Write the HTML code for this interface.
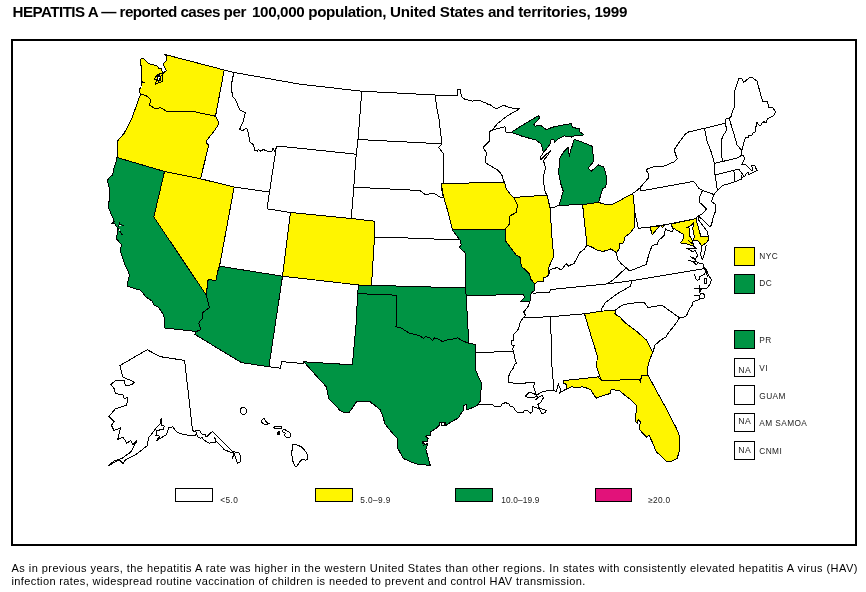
<!DOCTYPE html>
<html><head><meta charset="utf-8">
<style>
html,body{margin:0;padding:0;background:#fff;}
body{width:866px;height:592px;position:relative;overflow:hidden;font-family:"Liberation Sans",sans-serif;color:#000;}
#title{position:absolute;left:12.5px;top:2px;font-weight:bold;font-size:15.2px;letter-spacing:-0.36px;white-space:nowrap;line-height:20px;}
#frame{position:absolute;left:11px;top:39px;width:842px;height:503px;border:2px solid #000;}
#cap{position:absolute;left:11.5px;top:562px;font-size:11px;letter-spacing:0.46px;line-height:13px;white-space:nowrap;}
#map{position:absolute;left:0;top:0;}
.bx{position:absolute;border:1px solid #000;box-sizing:border-box;background:#fff;}
.t{position:absolute;font-size:8.3px;letter-spacing:0.4px;margin-left:-0.7px;line-height:10px;white-space:nowrap;color:#222;}
.na{font-size:8.7px;letter-spacing:0.3px;}
</style></head><body>
<div id="title"><span style="letter-spacing:-0.55px">HEPATITIS A — reported cases </span>per <span style="margin-left:2px">100,000</span> population, <span style="letter-spacing:-0.24px">United States and territories, 1999</span></div>
<div id="frame"></div>
<svg id="map" width="866" height="592" viewBox="0 0 866 592" shape-rendering="crispEdges">
<g stroke="#000" stroke-width="1" stroke-linejoin="miter">
<polygon fill="#FFF500" points="141.1,58.2 143.5,58.2 148.4,63.4 153.0,64.8 157.0,65.8 159.1,68.6 161.5,68.6 162.5,73.8 166.4,70.6 164.3,67.2 163.3,63.7 166.0,60.9 166.0,55.4 164.6,54.4 224.2,70.0 215.5,116.2 204.0,113.8 193.7,111.6 179.2,111.9 166.3,111.2 160.2,107.4 158.7,108.1 154.1,108.1 149.8,105.1 150.3,99.0 146.5,96.0 141.2,94.0 139.7,92.9 139.7,89.1 141.9,85.3 141.4,82.5 144.5,82.3 141.4,81.5 141.4,66.0 140.4,65.8 140.4,61.3 141.1,58.2"/>
<polygon fill="#FFF500" points="141.2,94.0 139.0,98.0 137.5,102.5 134.5,111.0 131.2,120.0 127.5,127.0 123.8,133.8 120.5,137.5 117.5,141.2 117.3,150.0 117.0,157.5 164.5,171.5 200.5,178.8 208.8,145.0 207.0,143.5 206.2,141.2 210.0,136.2 215.0,130.0 218.8,123.8 217.5,119.5 215.5,116.2 204.0,113.8 193.7,111.6 179.2,111.9 166.3,111.2 160.2,107.4 158.7,108.1 154.1,108.1 149.8,105.1 150.3,99.0 146.5,96.0 141.2,94.0"/>
<polygon fill="#009444" points="165.0,328.0 164.5,322.0 163.8,315.0 161.0,311.0 158.8,307.5 153.8,305.0 152.5,301.2 148.0,298.5 145.0,296.2 143.0,293.0 140.0,290.0 134.0,288.5 127.5,286.2 128.0,281.0 129.5,275.0 127.5,270.0 125.0,265.0 122.5,257.5 120.0,250.0 121.6,244.9 116.2,238.4 116.2,235.4 117.6,234.7 117.2,227.3 114.5,223.6 112.2,223.2 114.2,221.2 111.3,214.3 108.4,207.4 108.4,205.0 109.8,197.0 110.0,190.0 108.5,185.0 107.5,180.0 109.5,177.5 112.5,175.0 114.0,168.0 116.0,162.0 117.0,157.5 164.5,171.5 153.8,217.0 206.2,295.0 207.8,301.0 209.5,307.5 206.0,310.0 203.0,312.5 202.5,318.8 200.0,321.0 198.8,323.8 200.0,327.0 200.0,330.0 196.2,331.5 165.0,328.0"/>
<polygon fill="#FFF500" points="164.5,171.5 200.5,178.8 234.2,187.0 219.5,266.2 217.5,272.0 216.2,280.0 214.0,281.2 210.0,278.8 208.0,280.5 207.2,287.0 206.2,295.0 153.8,217.0 164.5,171.5"/>
<polygon fill="#009444" points="219.5,266.2 217.5,272.0 216.2,280.0 214.0,281.2 210.0,278.8 208.0,280.5 207.2,287.0 206.2,295.0 207.8,301.0 209.5,307.5 206.0,310.0 203.0,312.5 202.5,318.8 200.0,321.0 198.8,323.8 200.0,327.0 200.0,330.0 196.2,331.5 195.0,334.5 241.2,362.5 268.9,366.8 282.5,276.2 219.5,266.2"/>
<polygon fill="#FFF500" points="290.5,212.5 351.2,218.5 375.0,221.2 374.5,237.0 371.5,285.3 358.8,285.0 282.5,276.2 290.5,212.5"/>
<polygon fill="#009444" points="303.9,361.8 352.4,364.8 356.5,319.9 357.5,293.6 396.5,295.2 396.0,326.8 398.5,327.5 401.0,327.8 403.6,329.6 406.0,331.0 409.2,333.2 413.0,334.0 417.5,335.1 421.0,336.5 423.5,338.5 425.8,336.5 430.0,338.0 432.5,340.5 434.1,337.9 438.0,339.0 442.4,341.5 448.0,339.8 453.0,339.0 457.7,337.9 463.0,341.0 468.8,343.4 475.1,344.3 475.1,352.3 475.1,368.4 478.0,376.0 481.6,383.5 481.5,388.0 480.4,392.7 480.2,395.0 480.8,400.0 478.3,404.5 475.8,406.4 470.7,408.3 466.9,409.6 466.3,404.5 463.1,405.8 463.7,410.2 460.6,414.0 458.7,417.8 451.7,421.6 446.0,425.4 445.4,422.2 439.7,422.2 439.1,425.4 435.9,428.5 430.8,431.7 430.2,435.5 425.8,436.1 428.3,438.7 427.0,441.5 423.0,441.5 422.6,443.7 427.7,444.4 425.8,449.4 427.7,455.8 430.2,465.3 423.5,464.8 417.4,464.3 410.0,461.5 403.5,458.5 400.5,453.5 397.7,448.1 397.5,443.0 397.7,438.9 391.0,431.5 385.0,423.9 383.0,417.0 380.4,410.0 375.0,405.5 370.2,401.9 363.0,401.2 356.3,401.9 352.5,408.0 349.0,412.5 343.0,412.0 340.0,410.5 335.0,405.0 328.8,398.9 327.5,392.0 326.0,386.4 320.0,380.0 312.0,371.0 303.9,361.8"/>
<polygon fill="#009444" points="358.8,285.0 371.5,285.3 465.5,288.0 466.2,295.9 468.8,343.4 463.0,341.0 457.7,337.9 453.0,339.0 448.0,339.8 442.4,341.5 438.0,339.0 434.1,337.9 432.5,340.5 430.0,338.0 425.8,336.5 423.5,338.5 421.0,336.5 417.5,335.1 413.0,334.0 409.2,333.2 406.0,331.0 403.6,329.6 401.0,327.8 398.5,327.5 396.0,326.8 396.5,295.2 357.5,293.6 358.8,285.0"/>
<polygon fill="#009444" points="452.5,230.0 456.5,235.5 460.0,240.0 461.2,244.5 459.3,247.5 465.0,252.5 465.5,288.0 466.2,295.9 523.6,294.2 524.3,297.4 520.4,301.9 529.8,301.9 530.5,297.7 531.2,292.9 534.6,290.8 535.0,284.0 530.5,279.0 529.8,274.2 525.6,270.0 521.2,266.2 520.8,262.0 520.5,257.5 516.2,255.0 512.5,250.0 508.5,245.0 505.0,240.0 505.0,229.5 452.5,230.0"/>
<polygon fill="#FFF500" points="441.3,183.8 504.5,182.0 506.2,188.8 510.0,194.0 513.8,197.5 517.5,205.0 516.2,212.5 512.5,214.5 509.5,216.2 509.5,223.8 507.0,227.0 505.0,229.5 452.5,230.0 450.5,222.5 448.8,215.0 447.5,210.0 445.5,203.5 443.8,197.5 442.5,191.0 441.3,183.8"/>
<polygon fill="#FFF500" points="513.8,197.5 547.0,195.0 550.0,207.5 552.5,245.0 553.8,256.2 551.0,262.0 548.8,267.5 547.8,276.5 543.7,277.6 543.0,281.8 540.5,281.8 537.8,281.1 535.0,284.0 530.5,279.0 529.8,274.2 525.6,270.0 521.2,266.2 520.8,262.0 520.5,257.5 516.2,255.0 512.5,250.0 508.5,245.0 505.0,240.0 505.0,229.5 507.0,227.0 509.5,223.8 509.5,216.2 512.5,214.5 516.2,212.5 517.5,205.0 513.8,197.5"/>
<polygon fill="#009444" points="511.2,132.4 518.0,128.0 525.0,123.7 532.0,119.5 538.2,115.8 539.9,117.2 537.0,121.0 534.0,124.5 535.0,126.2 540.3,125.1 543.5,127.5 546.5,129.7 550.5,128.0 554.8,126.6 563.0,125.0 571.5,123.5 572.5,127.6 579.8,128.6 579.8,131.8 583.9,134.9 579.0,135.5 574.6,135.9 571.5,137.0 568.0,136.3 564.2,135.9 561.0,137.5 557.9,139.0 554.8,142.2 553.8,139.5 550.7,140.1 550.7,143.2 547.5,147.5 543.4,152.6 542.3,148.5 541.3,144.2 536.1,140.1 523.0,136.5 511.2,132.4"/>
<polygon fill="#009444" points="558.8,205.3 560.5,201.0 563.2,191.0 560.5,183.0 558.6,172.3 560.0,157.7 564.0,151.5 568.3,147.4 569.3,156.7 570.5,150.0 572.5,145.3 573.5,140.1 574.6,139.5 583.0,142.5 592.2,146.3 593.0,154.0 593.3,161.9 588.1,168.1 591.2,171.3 595.0,168.0 598.5,165.0 603.7,167.1 605.5,173.0 606.8,178.5 605.8,186.8 602.6,188.9 600.5,196.0 598.5,202.4 582.6,204.6 558.8,205.3"/>
<polygon fill="#FFF500" points="632.8,193.4 628.0,196.0 623.4,198.5 618.0,201.5 613.0,204.2 607.5,204.5 603.0,203.8 598.5,202.4 582.6,204.6 587.0,245.0 592.5,247.5 597.0,250.0 602.5,251.4 607.0,250.5 611.0,248.8 614.0,251.0 616.5,252.6 619.0,249.0 619.8,243.7 623.6,242.9 625.1,236.8 630.0,233.3 634.4,227.5 635.0,220.0 634.9,212.5 632.8,193.4"/>
<polygon fill="#FFF500" points="584.5,313.8 601.2,311.2 615.5,310.0 615.0,313.5 617.0,315.3 620.5,317.5 622.7,320.2 626.7,324.0 630.0,326.5 636.6,331.3 642.4,336.5 646.4,340.0 649.0,345.0 652.8,352.3 649.5,360.0 647.0,369.4 648.0,375.0 641.8,375.8 641.0,378.5 640.3,381.9 639.0,379.1 620.0,380.0 601.6,380.7 598.5,373.0 596.8,367.1 597.0,361.0 597.2,355.6 590.5,334.0 584.5,313.8"/>
<polygon fill="#FFF500" points="601.6,380.7 598.3,376.9 563.7,380.6 563.4,383.3 566.1,384.2 566.6,388.9 571.2,386.9 577.0,387.3 582.3,386.9 586.5,388.0 590.7,389.7 593.0,393.5 596.2,398.1 603.0,395.7 610.2,393.5 611.1,389.7 615.0,390.0 619.5,390.7 624.0,394.5 628.8,398.1 633.0,402.0 636.6,405.5 636.0,413.0 635.3,421.3 637.1,423.2 638.1,419.5 640.8,422.3 639.5,425.5 639.0,428.8 642.5,433.0 646.4,437.1 649.2,435.3 651.5,440.5 653.9,445.5 655.0,449.0 656.6,452.0 661.5,456.5 666.9,461.8 671.5,461.3 677.1,458.5 678.8,453.0 679.9,447.3 679.7,440.0 678.9,434.3 676.2,427.8 670.0,416.0 664.1,404.6 656.0,390.0 648.0,375.0 641.8,375.8 641.0,378.5 640.3,381.9 639.0,379.1 620.0,380.0 601.6,380.7"/>
<polygon fill="#FFF500" points="649.9,227.0 659.6,226.1 652.3,234.6"/>
<polygon fill="#FFF500" points="670.9,224.1 695.9,218.6 700.8,236.3 708.1,236.7 708.1,240.3 706.4,242.7 701.6,246.0 698.4,241.1 694.3,240.3 692.7,241.1 693.5,239.9 694.7,236.3 693.5,233.8 692.7,228.2 693.5,225.3 693.8,222.5 691.1,225.7 687.0,227.4 689.1,228.2 689.9,236.3 691.9,239.5 692.7,241.1 693.5,246.0 690.3,245.1 685.4,243.5 682.0,243.8 680.6,242.7 683.0,239.5 683.8,234.6 677.3,230.6 672.9,227.8"/>
<polygon fill="#FFF500" points="660.8,225.3 665.2,224.9 662.4,227.8"/>
</g><g fill="none" stroke="#000" stroke-width="1">
<polyline points="141.1,58.2 143.5,58.2 148.4,63.4 153.0,64.8 157.0,65.8 159.1,68.6 161.5,68.6 162.5,73.8 166.4,70.6 164.3,67.2 163.3,63.7 166.0,60.9 166.0,55.4 164.6,54.4"/>
<polyline points="164.6,54.4 224.2,70.0"/>
<polyline points="224.2,70.0 215.5,116.2"/>
<polyline points="215.5,116.2 204.0,113.8 193.7,111.6 179.2,111.9 166.3,111.2 160.2,107.4 158.7,108.1 154.1,108.1 149.8,105.1 150.3,99.0 146.5,96.0 141.2,94.0"/>
<polyline points="141.2,94.0 139.7,92.9 139.7,89.1 141.9,85.3 141.4,82.5 144.5,82.3 141.4,81.5 141.4,66.0 140.4,65.8 140.4,61.3 141.1,58.2"/>
<polyline points="141.2,94.0 139.0,98.0 137.5,102.5 134.5,111.0 131.2,120.0 127.5,127.0 123.8,133.8 120.5,137.5 117.5,141.2 117.3,150.0 117.0,157.5"/>
<polyline points="117.0,157.5 164.5,171.5"/>
<polyline points="164.5,171.5 200.5,178.8"/>
<polyline points="215.5,116.2 217.5,119.5 218.8,123.8 215.0,130.0 210.0,136.2 206.2,141.2 207.0,143.5 208.8,145.0 200.5,178.8"/>
<polyline points="200.5,178.8 234.2,187.0"/>
<polyline points="234.2,187.0 269.5,192.0"/>
<polyline points="224.2,70.0 234.2,72.5"/>
<polyline points="234.2,72.5 232.9,76.9 231.3,85.3 232.4,96.3 235.5,99.7 239.7,109.8 245.3,112.7 243.1,121.7 239.7,129.3 242.2,130.9 245.6,128.4 247.6,129.3 249.8,141.9 253.2,144.5 254.9,150.4 257.4,151.2 258.3,149.5 260.8,151.2 263.3,149.5 267.6,151.2 271.8,151.2 273.0,148.2 275.2,152.1 276.5,146.0"/>
<polyline points="276.5,146.0 269.5,192.0"/>
<polyline points="234.2,72.5 300.0,84.2 361.8,91.2"/>
<polyline points="276.5,146.0 300.0,148.3 356.2,154.2"/>
<polyline points="361.8,91.2 358.0,139.5"/>
<polyline points="358.0,139.5 356.2,154.2"/>
<polyline points="356.2,154.2 353.8,187.2"/>
<polyline points="353.8,187.2 351.2,218.5"/>
<polyline points="269.5,192.0 267.0,208.8 290.5,212.5"/>
<polyline points="290.5,212.5 351.2,218.5"/>
<polyline points="351.2,218.5 375.0,221.2"/>
<polyline points="375.0,221.2 374.5,237.0"/>
<polyline points="374.5,237.0 371.5,285.3"/>
<polyline points="371.5,285.3 358.8,285.0 282.5,276.2"/>
<polyline points="282.5,276.2 290.5,212.5"/>
<polyline points="234.2,187.0 219.5,266.2"/>
<polyline points="219.5,266.2 282.5,276.2"/>
<polyline points="164.5,171.5 153.8,217.0 206.2,295.0"/>
<polyline points="219.5,266.2 217.5,272.0 216.2,280.0 214.0,281.2 210.0,278.8 208.0,280.5 207.2,287.0 206.2,295.0"/>
<polyline points="206.2,295.0 207.8,301.0 209.5,307.5 206.0,310.0 203.0,312.5 202.5,318.8 200.0,321.0 198.8,323.8 200.0,327.0 200.0,330.0 196.2,331.5"/>
<polyline points="196.2,331.5 165.0,328.0"/>
<polyline points="165.0,328.0 164.5,322.0 163.8,315.0 161.0,311.0 158.8,307.5 153.8,305.0 152.5,301.2 148.0,298.5 145.0,296.2 143.0,293.0 140.0,290.0 134.0,288.5 127.5,286.2 128.0,281.0 129.5,275.0 127.5,270.0 125.0,265.0 122.5,257.5 120.0,250.0 121.6,244.9 116.2,238.4 116.2,235.4 117.6,234.7 117.2,227.3 114.5,223.6 112.2,223.2 114.2,221.2 111.3,214.3 108.4,207.4 108.4,205.0 109.8,197.0 110.0,190.0 108.5,185.0 107.5,180.0 109.5,177.5 112.5,175.0 114.0,168.0 116.0,162.0 117.0,157.5"/>
<polyline points="195.0,334.5 241.2,362.5 268.9,366.8"/>
<polyline points="282.5,276.2 268.9,366.8"/>
<polyline points="268.9,366.8 280.4,368.2 281.5,361.6 303.7,363.6 303.9,361.8"/>
<polyline points="303.9,361.8 352.4,364.8"/>
<polyline points="352.4,364.8 356.5,319.9 357.5,293.6"/>
<polyline points="357.5,293.6 358.8,285.0"/>
<polyline points="358.8,285.0 371.5,285.3 465.5,288.0"/>
<polyline points="465.5,288.0 466.2,295.9 468.8,343.4"/>
<polyline points="468.8,343.4 463.0,341.0 457.7,337.9 453.0,339.0 448.0,339.8 442.4,341.5 438.0,339.0 434.1,337.9 432.5,340.5 430.0,338.0 425.8,336.5 423.5,338.5 421.0,336.5 417.5,335.1 413.0,334.0 409.2,333.2 406.0,331.0 403.6,329.6 401.0,327.8 398.5,327.5 396.0,326.8"/>
<polyline points="396.0,326.8 396.5,295.2"/>
<polyline points="396.5,295.2 357.5,293.6"/>
<polyline points="303.9,361.8 312.0,371.0 320.0,380.0 326.0,386.4 327.5,392.0 328.8,398.9 335.0,405.0 340.0,410.5 343.0,412.0 349.0,412.5 352.5,408.0 356.3,401.9 363.0,401.2 370.2,401.9 375.0,405.5 380.4,410.0 383.0,417.0 385.0,423.9 391.0,431.5 397.7,438.9 397.5,443.0 397.7,448.1 400.5,453.5 403.5,458.5 410.0,461.5 417.4,464.3 423.5,464.8 430.2,465.3"/>
<polyline points="430.2,465.3 427.7,455.8 425.8,449.4 427.7,444.4 422.6,443.7 423.0,441.5 427.0,441.5 428.3,438.7 425.8,436.1 430.2,435.5 430.8,431.7 435.9,428.5 439.1,425.4 439.7,422.2 445.4,422.2 446.0,425.4 451.7,421.6 458.7,417.8 460.6,414.0 463.7,410.2 463.1,405.8 466.3,404.5 466.9,409.6 470.7,408.3 475.8,406.4 478.3,404.5"/>
<polyline points="478.3,404.5 480.8,400.0 480.2,395.0 480.4,392.7 481.5,388.0 481.6,383.5 478.0,376.0 475.1,368.4 475.1,352.3"/>
<polyline points="475.1,352.3 475.1,344.3 468.8,343.4"/>
<polyline points="475.1,352.3 513.2,351.7"/>
<polyline points="478.3,404.5 486.0,404.4 492.4,404.8 495.0,406.4 500.5,406.9 501.9,404.1 505.2,402.7 508.9,403.6 510.2,406.4 513.9,407.3 514.9,410.1 518.1,412.9 522.7,412.9 524.6,410.1 527.8,410.6 530.1,413.3 532.4,411.5 532.0,406.4 538.9,408.6 540.3,410.6 542.1,413.8 545.3,412.4 546.3,410.6 538.9,407.8 538.0,404.6 541.2,401.8 543.5,397.6 542.1,395.3 538.4,397.2 535.6,399.9 538.4,397.2 536.6,395.3"/>
<polyline points="536.6,395.3 535.6,392.6 533.8,387.0 534.3,382.2 526.0,382.2 525.5,383.3 508.4,382.9 508.5,378.0 509.4,373.6 513.6,367.7 514.4,364.3 517.0,363.0 515.3,360.9 514.4,355.0 513.2,351.7"/>
<polyline points="513.2,351.7 512.7,348.3 514.4,345.7 511.9,344.9 511.9,340.7 513.2,340.7 513.6,334.8 518.6,328.9 519.5,323.8 522.9,317.9"/>
<polyline points="522.9,317.9 525.4,315.3 523.7,312.0 527.9,306.9 529.8,301.9"/>
<polyline points="523.6,294.2 524.3,297.4 520.4,301.9 529.8,301.9 530.5,297.7 531.2,292.9 534.6,290.8 535.0,284.0"/>
<polyline points="466.2,295.9 523.6,294.2"/>
<polyline points="550.5,316.7 552.1,369.4 553.2,380.5 553.7,390.2"/>
<polyline points="536.6,395.3 540.3,392.6 543.0,391.4 550.4,390.5 553.7,390.2"/>
<polyline points="553.7,390.2 556.4,391.6 557.3,388.0 558.3,384.2 559.7,387.5 561.0,390.2 559.7,393.0 562.4,391.2 566.6,388.9"/>
<polyline points="522.9,317.9 550.5,316.7 584.5,313.8 601.2,311.2 615.5,310.0"/>
<polyline points="584.5,313.8 590.5,334.0 597.2,355.6 597.0,361.0 596.8,367.1 598.5,373.0 601.6,380.7"/>
<polyline points="601.6,380.7 598.3,376.9 563.7,380.6"/>
<polyline points="563.7,380.6 563.4,383.3 566.1,384.2 566.6,388.9"/>
<polyline points="566.6,388.9 571.2,386.9 577.0,387.3 582.3,386.9 586.5,388.0 590.7,389.7 593.0,393.5 596.2,398.1 603.0,395.7 610.2,393.5 611.1,389.7 615.0,390.0 619.5,390.7 624.0,394.5 628.8,398.1 633.0,402.0 636.6,405.5 636.0,413.0 635.3,421.3 637.1,423.2 638.1,419.5 640.8,422.3 639.5,425.5 639.0,428.8 642.5,433.0 646.4,437.1 649.2,435.3 651.5,440.5 653.9,445.5 655.0,449.0 656.6,452.0 661.5,456.5 666.9,461.8 671.5,461.3 677.1,458.5 678.8,453.0 679.9,447.3 679.7,440.0 678.9,434.3 676.2,427.8 670.0,416.0 664.1,404.6 656.0,390.0 648.0,375.0"/>
<polyline points="601.6,380.7 620.0,380.0 639.0,379.1 640.3,381.9 641.0,378.5 641.8,375.8 648.0,375.0"/>
<polyline points="648.0,375.0 647.0,369.4 649.5,360.0 652.8,352.3"/>
<polyline points="652.8,352.3 649.0,345.0 646.4,340.0 642.4,336.5 636.6,331.3 630.0,326.5 626.7,324.0 622.7,320.2 620.5,317.5 617.0,315.3 615.0,313.5 615.5,310.0"/>
<polyline points="615.5,310.0 620.0,306.7 624.8,304.3 634.0,303.0 644.0,302.3 645.8,304.5 647.8,307.5 655.0,306.3 662.0,305.3 670.0,311.0 679.5,317.8 684.0,317.0"/>
<polyline points="652.8,352.3 655.1,345.1 660.0,340.5 666.0,337.0 669.0,332.0 671.6,329.0 675.5,324.0 679.5,317.8"/>
<polyline points="631.7,280.7 630.7,286.1 625.0,289.3 619.9,292.0 612.0,297.5 605.2,302.8 602.2,307.7 601.2,311.2"/>
<polyline points="532.6,293.2 549.5,292.3 550.5,289.6 607.0,283.9 631.7,280.7 704.3,268.6"/>
<polyline points="607.0,283.9 611.0,281.5 615.0,278.3 620.5,273.0 626.5,268.0"/>
<polyline points="626.5,268.0 621.0,263.5 617.9,259.6 617.0,256.0 616.5,252.6"/>
<polyline points="626.5,268.0 629.0,270.8 631.0,270.5 638.5,267.5 646.3,264.4 648.0,257.5 650.7,249.2 652.3,245.5 657.1,244.3 658.7,240.3 662.4,237.1 664.8,234.6 665.2,228.2 666.8,229.8 672.5,231.8 673.3,229.0"/>
<polyline points="535.0,284.0 537.8,281.1 540.5,281.8 543.0,281.8 543.7,277.6 547.8,276.5 549.0,273.5 550.0,270.0 553.5,268.5 557.5,267.5 559.5,269.0 561.2,270.0 564.0,266.5 566.2,263.8 568.8,266.2 571.0,264.5 573.8,263.8 577.0,258.0 580.0,252.5 584.0,249.5 587.0,245.0"/>
<polyline points="587.0,245.0 592.5,247.5 597.0,250.0 602.5,251.4 607.0,250.5 611.0,248.8 614.0,251.0 616.5,252.6"/>
<polyline points="616.5,252.6 619.0,249.0 619.8,243.7 623.6,242.9 625.1,236.8 630.0,233.3 634.4,227.5 635.0,220.0 634.9,212.5"/>
<polyline points="634.9,212.5 632.8,193.4"/>
<polyline points="632.8,193.4 628.0,196.0 623.4,198.5 618.0,201.5 613.0,204.2 607.5,204.5 603.0,203.8 598.5,202.4"/>
<polyline points="598.5,202.4 582.6,204.6"/>
<polyline points="582.6,204.6 587.0,245.0"/>
<polyline points="582.6,204.6 558.8,205.3"/>
<polyline points="558.8,205.3 554.0,207.3 550.0,207.5"/>
<polyline points="550.0,207.5 552.5,245.0 553.8,256.2 551.0,262.0 548.8,267.5 547.8,276.5"/>
<polyline points="547.0,195.0 550.0,207.5"/>
<polyline points="513.8,197.5 547.0,195.0"/>
<polyline points="513.8,197.5 517.5,205.0 516.2,212.5 512.5,214.5 509.5,216.2 509.5,223.8 507.0,227.0 505.0,229.5"/>
<polyline points="505.0,229.5 505.0,240.0 508.5,245.0 512.5,250.0 516.2,255.0 520.5,257.5 520.8,262.0 521.2,266.2 525.6,270.0 529.8,274.2 530.5,279.0 535.0,284.0"/>
<polyline points="441.3,183.8 504.5,182.0"/>
<polyline points="504.5,182.0 506.2,188.8 510.0,194.0 513.8,197.5"/>
<polyline points="505.0,229.5 452.5,230.0"/>
<polyline points="452.5,230.0 450.5,222.5 448.8,215.0 447.5,210.0 445.5,203.5 443.8,197.5 442.5,191.0 441.3,183.8"/>
<polyline points="452.5,230.0 456.5,235.5 460.0,240.0 461.2,244.5 459.3,247.5 465.0,252.5 465.5,288.0 466.2,295.9"/>
<polyline points="374.5,237.0 407.5,238.0 460.0,240.0"/>
<polyline points="353.8,187.2 420.0,190.5 423.0,193.0 426.2,195.0 430.5,193.5 435.0,193.8 439.0,196.5 443.5,198.2"/>
<polyline points="441.3,183.8 442.2,192.4 443.5,198.2"/>
<polyline points="358.0,139.5 442.0,143.8"/>
<polyline points="435.0,95.0 436.5,106.0 438.8,117.5 440.3,130.0 442.0,143.8"/>
<polyline points="442.0,143.8 438.8,147.5 441.0,150.5 443.8,153.8 443.6,183.7"/>
<polyline points="361.8,91.2 435.0,95.0"/>
<polyline points="435.0,95.0 457.0,95.0 457.0,89.5 460.5,89.5 461.2,96.2 463.8,98.8 468.0,100.0 472.5,101.2 476.0,100.5 480.0,100.3 483.0,102.0 486.2,103.0 488.3,104.8 490.5,105.0 493.0,107.0 496.6,108.9 500.0,106.8 503.9,105.4 507.5,106.8 511.2,107.9 519.5,108.9"/>
<polyline points="519.5,108.9 513.0,112.5 507.0,116.2 502.0,120.0 497.7,123.5 495.0,126.5 492.5,130.0"/>
<polyline points="492.5,130.0 489.4,131.5 489.4,141.1 486.0,144.5 483.3,147.4 486.2,152.6 485.6,162.7 491.5,166.5 497.5,170.0 500.8,173.5 502.5,176.5 503.8,182.0"/>
<polyline points="492.5,130.0 498.0,128.5 505.0,126.8 505.6,132.0 511.2,132.4"/>
<polyline points="511.2,132.4 523.0,136.5 536.1,140.1 541.3,144.2 542.3,148.5 543.4,152.6"/>
<polyline points="543.4,152.6 540.5,157.0 540.3,160.0 545.0,155.5 550.7,150.5 548.0,155.0 543.5,160.5 545.5,168.1 543.4,176.5 543.8,183.0 544.4,188.9 546.5,194.9"/>
<polyline points="511.2,132.4 518.0,128.0 525.0,123.7 532.0,119.5 538.2,115.8 539.9,117.2 537.0,121.0 534.0,124.5 535.0,126.2 540.3,125.1 543.5,127.5 546.5,129.7 550.5,128.0 554.8,126.6 563.0,125.0 571.5,123.5 572.5,127.6 579.8,128.6 579.8,131.8 583.9,134.9 579.0,135.5 574.6,135.9 571.5,137.0 568.0,136.3 564.2,135.9 561.0,137.5 557.9,139.0 554.8,142.2 553.8,139.5 550.7,140.1 550.7,143.2 547.5,147.5 543.4,152.6"/>
<polyline points="558.8,205.3 560.5,201.0 563.2,191.0 560.5,183.0 558.6,172.3 560.0,157.7 564.0,151.5 568.3,147.4 569.3,156.7 570.5,150.0 572.5,145.3 573.5,140.1 574.6,139.5 583.0,142.5 592.2,146.3 593.0,154.0 593.3,161.9 588.1,168.1 591.2,171.3 595.0,168.0 598.5,165.0 603.7,167.1 605.5,173.0 606.8,178.5 605.8,186.8 602.6,188.9 600.5,196.0 598.5,202.4"/>
<polyline points="632.8,193.4 637.0,190.3 640.0,187.9"/>
<polyline points="640.0,187.9 641.0,191.0"/>
<polyline points="641.0,191.0 693.5,181.4 696.0,183.8 697.5,186.5 699.2,188.7 702.5,190.3"/>
<polyline points="640.0,187.9 644.1,183.0 648.9,177.3 648.1,173.3 646.5,170.8 647.3,168.9 652.0,167.3 656.2,166.3 664.3,166.0 669.0,164.0 674.1,161.9 677.3,158.7 676.0,155.4 674.1,149.7 678.0,144.0 682.8,137.5 685.0,134.5 687.7,132.2 704.4,128.3"/>
<polyline points="704.4,128.3 707.4,142.5 709.5,147.5 711.3,152.3 714.4,163.3"/>
<polyline points="704.4,128.3 725.0,123.2"/>
<polyline points="725.0,123.2 727.0,129.7 724.5,133.5 722.1,137.5 721.1,148.3 722.4,161.5"/>
<polyline points="725.0,123.2 726.0,118.9 729.0,117.9"/>
<polyline points="729.0,117.9 733.2,131.5 737.1,144.9 741.7,150.5"/>
<polyline points="729.0,117.9 730.9,117.0 732.2,112.2 734.6,106.5 734.6,91.5 736.6,85.0 738.7,78.5 741.5,78.1 743.9,82.2 746.0,80.5 750.0,77.3 752.4,77.7 756.9,80.9 759.7,91.0 762.6,101.2 767.4,101.2 768.7,107.3 772.7,107.5 775.6,112.0 773.7,115.7 767.7,118.5 765.9,123.1 764.0,121.7 762.1,123.1 760.7,125.9 758.9,125.0 757.0,122.6 756.6,125.9 755.2,127.7 755.2,131.9 752.9,132.9 751.9,135.2 748.7,135.6 748.7,138.0 745.9,137.0 744.5,140.3 743.1,145.9 741.7,150.5"/>
<polyline points="741.7,150.5 741.4,155.1"/>
<polyline points="714.4,163.3 722.4,161.5 737.2,158.0 739.7,156.8 741.4,155.1"/>
<polyline points="714.4,163.3 715.0,174.9"/>
<polyline points="715.0,174.9 717.3,189.7 717.3,190.5"/>
<polyline points="715.0,174.9 733.8,170.3 738.9,169.4"/>
<polyline points="733.8,170.3 735.1,181.7"/>
<polyline points="741.4,155.1 743.5,155.9 744.6,158.9 742.2,163.9 741.4,164.5 745.6,164.5 748.5,167.5 751.5,170.7 752.8,169.8 751.5,165.6 754.9,165.4 755.7,168.2 757.4,170.3 754.9,171.5 749.0,174.5 748.6,172.8 746.9,173.0 744.8,176.2 743.9,176.2"/>
<polyline points="738.9,169.4 743.9,176.2 742.2,177.9 741.0,175.3 741.4,179.1 735.1,181.7"/>
<polyline points="735.1,181.7 722.8,185.5 717.3,190.5 713.9,194.5"/>
<polyline points="702.5,190.3 713.9,194.5"/>
<polyline points="713.9,194.5 713.0,196.8 711.4,201.6 715.4,204.1 715.4,211.4 713.0,217.9 711.5,224.9 709.7,226.8"/>
<polyline points="709.7,226.8 704.0,221.0 698.0,215.8"/>
<polyline points="702.5,190.3 700.0,196.0 699.7,202.5 703.0,205.5 706.5,208.9 702.5,213.8 698.0,215.8"/>
<polyline points="638.3,228.3 649.9,227.0 667.8,224.2 695.9,218.6 698.0,215.8"/>
<polyline points="634.9,212.5 638.3,228.3"/>
<polyline points="695.9,218.6 700.8,236.3"/>
<polyline points="700.8,236.3 708.3,236.5"/>
<polyline points="698.0,215.8 698.8,220.1 703.0,226.0 707.2,231.4 708.3,236.5"/>
<polyline points="687.8,240.3 693.5,244.3"/>
<polyline points="673.3,229.0 670.9,224.1"/>
<polyline points="701.6,245.8 701.3,251.5 700.4,254.4 702.1,259.6 703.3,257.9 705.0,251.5 706.2,245.2"/>
<polyline points="693.5,246.0 696.7,248.7 687.1,248.4 692.3,251.5 695.5,250.4 697.5,255.6 695.5,259.0 690.3,256.5 694.1,259.0 696.9,261.9 692.3,261.4 688.3,260.2 692.3,261.4 696.7,264.8 698.1,262.2 699.8,263.4 702.7,263.4 703.9,266.0 704.3,268.6"/>
<polyline points="704.3,268.6 708.0,274.0 711.4,279.7 710.4,283.3 707.4,287.9 701.3,288.9 699.8,292.4 700.5,293.8"/>
<polyline points="705.4,272.1 704.3,274.2 699.8,276.7 699.8,279.2 697.2,280.3 695.7,278.7 694.7,274.2"/>
<polyline points="699.9,298.0 699.3,299.5 695.2,301.0 692.2,302.6 692.7,304.6 689.6,308.6 687.6,312.7 686.6,315.8 684.0,317.0"/>
<polyline points="694.2,288.4 701.3,288.9"/>
<polyline points="699.8,285.3 699.8,292.4"/>
<polyline points="694.2,295.5 699.8,296.0"/>
<polyline points="704.3,278.7 704.3,283.3 706.9,283.3 706.9,278.7 704.3,278.7"/>
<polyline points="703.8,267.1 706.5,270.0 709.5,277.5 711.4,279.7"/>
<polyline points="704.6,270.5 708.5,277.5"/>
<polyline points="700.5,293.8 703.0,293.3 704.8,295.3 704.3,297.8 702.3,298.8 699.9,298.0 699.6,295.5 700.5,293.8"/>
<polygon points="525.5,396.2 529.2,392.1 532.0,393.0 535.6,394.4 537.0,396.2 534.7,397.2 530.1,397.6 526.9,397.0"/>
<polygon points="147.2,349.7 159.9,356.6 184.6,360.4 192.5,429.9 193.9,431.3 199.5,430.3 200.9,433.1 202.8,435.0 205.1,434.5 206.0,437.3 212.5,431.3 232.1,451.3 239.5,453.1 240.9,458.7 240.4,461.9 237.6,463.3 234.4,454.0 232.1,458.7 233.9,453.1 230.7,452.2 224.6,449.9 216.3,441.5 214.9,437.3 215.3,442.0 211.6,442.0 209.7,443.4 207.0,442.0 203.7,439.6 202.3,437.8 200.0,438.2 197.2,436.4 196.7,433.1 195.8,435.0 187.4,435.0 180.0,433.6 176.5,431.8 172.6,426.7 168.8,427.9 166.5,434.7 161.2,437.8 155.9,441.0 160.1,436.1 155.9,435.7 157.0,430.4 163.3,429.4 164.3,426.2 161.2,425.2 161.2,417.8 160.1,424.1 155.9,428.3 148.4,438.1 147.2,445.8 135.7,454.7 125.5,459.8 122.9,463.6 119.1,459.8 107.6,466.2 114.0,461.1 121.7,458.5 130.6,452.2 137.0,440.7 133.1,444.5 130.6,440.7 126.8,443.2 122.9,436.9 117.8,439.4 120.4,427.9 114.0,430.5 111.5,425.4 114.0,421.6 108.9,416.5 115.3,408.8 126.8,405.0 127.5,397.4 124.2,398.6 122.9,394.8 115.3,393.5 114.0,388.4 110.7,384.6 115.3,380.8 124.2,380.8 125.5,385.9 131.9,384.6 134.4,382.1 125.5,378.2 122.9,377.0 119.9,365.5 147.2,349.7"/>
<polygon points="292.3,444.3 296.4,444.7 301.2,446.7 304.7,450.2 307.7,454.9 307.3,459.1 305.9,460.3 302.4,459.1 299.4,462.0 297.0,466.2 295.3,466.4 292.9,461.4 292.3,456.7 291.1,453.2 292.3,449.6 292.9,445.5"/>
<polygon points="263.4,418.3 261.0,421.3 262.8,423.6 266.3,424.6 268.7,423.4 266.3,421.9 264.5,418.8"/>
<polygon points="273.4,427.4 275.2,426.6 281.7,426.6 281.1,428.4 275.2,428.4"/>
<polygon points="282.3,430.1 284.6,429.5 287.0,431.0 289.9,432.5 290.8,435.5 289.4,437.6 286.4,437.6 284.6,435.5 285.2,433.1 282.9,431.9"/>
<ellipse cx="243.5" cy="410.9" rx="3.1" ry="3.4"/>
<circle cx="278.7" cy="433.1" r="1.4" fill="#000"/>
<path d="M154,79 L157.5,75 L160,73 L162.5,74 L162.5,81.5 L158,83 L155.5,84.5 L156.5,80 Z" />
<path d="M158,76.5 L160.5,77 L160,81 L157.5,80 Z" fill="#fff"/>
<path d="M156.5,80 L159.5,74.5 M158,83 L161.5,75" />
<rect x="140.6" y="86.2" width="1.4" height="2.2" fill="#fff" stroke="none"/>
<path d="M117.4,227.5 L119.6,224.9 L123.6,225.1 M119.6,224.9 L119.6,222.2 M117.8,228 L122.6,235.4"/>
<rect x="119.2" y="224.6" width="2" height="1.6" fill="#fff" stroke="none"/><rect x="118.6" y="228.8" width="1.6" height="2" fill="#fff" stroke="none"/>
<rect x="441" y="422.8" width="3" height="3" fill="#fff"/><rect x="464" y="406" width="2" height="4" fill="#fff" stroke="none"/>
<path d="M422.6,441 L425.5,444.5 M423,445.5 L427.5,443"/>
</g></svg>
<div class="bx" style="left:734px;top:247px;width:21px;height:19px;background:#FFF500"></div><div class="t" style="left:760px;top:251px">NYC</div>
<div class="bx" style="left:734px;top:274px;width:21px;height:20px;background:#009444"></div><div class="t" style="left:760px;top:278px">DC</div>
<div class="bx" style="left:734px;top:330px;width:21px;height:19px;background:#009444"></div><div class="t" style="left:760px;top:335px">PR</div>
<div class="bx" style="left:734px;top:358px;width:21px;height:19px;"></div><div class="t" style="left:760px;top:363px">VI</div>
<div class="t na" style="left:739px;top:365px">NA</div>
<div class="bx" style="left:734px;top:385px;width:21px;height:20px;"></div><div class="t" style="left:760px;top:391px">GUAM</div>
<div class="bx" style="left:734px;top:413px;width:21px;height:19px;"></div><div class="t" style="left:760px;top:418px">AM SAMOA</div>
<div class="t na" style="left:739px;top:416px">NA</div>
<div class="bx" style="left:734px;top:441px;width:21px;height:19px;"></div><div class="t" style="left:760px;top:446px">CNMI</div>
<div class="t na" style="left:739px;top:445px">NA</div>
<div class="bx" style="left:175px;top:488px;width:38px;height:14px;"></div><div class="t" style="left:221px;top:495px">&lt;5.0</div>
<div class="bx" style="left:315px;top:488px;width:38px;height:14px;background:#FFF500"></div><div class="t" style="left:361px;top:495px">5.0–9.9</div>
<div class="bx" style="left:455px;top:488px;width:38px;height:14px;background:#009444"></div><div class="t" style="left:502px;top:495px;letter-spacing:0.15px">10.0–19.9</div>
<div class="bx" style="left:595px;top:488px;width:37px;height:14px;background:#E2127A"></div><div class="t" style="left:649px;top:495px;letter-spacing:0.25px">≥20.0</div>
<div id="cap">As in previous years, the hepatitis A rate was higher in the western United States than other regions. In states with consistently elevated hepatitis A virus (HAV)<br><span style="letter-spacing:0.38px">infection rates, widespread routine vaccination of children is needed to prevent and control HAV transmission.</span></div>
</body></html>
